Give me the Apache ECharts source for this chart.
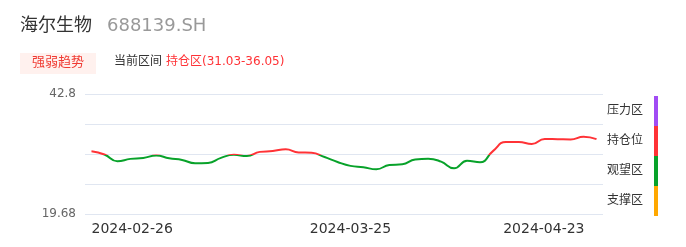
<!DOCTYPE html>
<html><head><meta charset="utf-8">
<script src="https://cdn.jsdelivr.net/npm/echarts@6/dist/echarts.min.js"></script>
<style>html,body{margin:0;padding:0;background:#fff}#c{width:686px;height:247px}</style>
</head><body><div id="c"></div>
<script>
const dates = ['2024-02-26','2024-02-27','2024-02-28','2024-02-29','2024-03-01','2024-03-04','2024-03-05','2024-03-06','2024-03-07','2024-03-08','2024-03-11','2024-03-12','2024-03-13','2024-03-14','2024-03-15','2024-03-18','2024-03-19','2024-03-20','2024-03-21','2024-03-22','2024-03-25','2024-03-26','2024-03-27','2024-03-28','2024-03-29','2024-04-01','2024-04-02','2024-04-03','2024-04-08','2024-04-09','2024-04-10','2024-04-11','2024-04-12','2024-04-15','2024-04-16','2024-04-17','2024-04-18','2024-04-19','2024-04-22','2024-04-23'];
const prices = [31.76,31.15,29.85,30.3,30.47,30.95,30.4,30.1,29.45,29.5,30.5,31.08,30.85,31.65,31.8,32.15,31.55,31.5,30.65,29.7,28.95,28.68,28.3,29.12,29.25,30.2,30.34,29.76,28.48,29.95,29.64,31.8,33.55,33.55,33.15,34.15,34.1,34.05,34.57,34.1];
const xLabelDates = ['2024-02-26','2024-03-25','2024-04-23'];
const yMin = 19.68, yMax = 42.8;
const yTickLabels = ['19.68','','','','42.8'];
const zoneNames = ['压力区','持仓位','观望区','支撑区'];
const zoneColors = ['#a14cf4','#ff3236','#08a22a','#ffa800'];
const holdLow = 31.03, holdHigh = 36.05, watchLow = 26.0;
const stockName = '海尔生物', stockCode = '688139.SH';
const badgeText = '强弱趋势', rangeLabel = '当前区间', rangeText = '持仓区(31.03-36.05)';

const FF = '"DejaVu Sans","Noto Sans CJK SC",sans-serif';
const chart = echarts.init(document.getElementById('c'), null, {renderer:'canvas'});
const lastIdx = dates.length - 1;
chart.setOption({
  animation:false,
  textStyle:{fontFamily:FF},
  grid:{left:85,right:83,top:94,bottom:33},
  graphic:[
    {type:'text',left:20,top:17,style:{text:stockName,fontSize:18,fill:'#333',fontFamily:FF}},
    {type:'text',left:107,top:17,style:{text:stockCode,fontSize:18,fill:'#999',fontFamily:FF}},
    {type:'rect',left:20,top:53,shape:{width:76,height:21},style:{fill:'#fff1ee'}},
    {type:'text',left:32,top:56,style:{text:badgeText,fontSize:13,fill:'#f03a32',fontFamily:FF}},
    {type:'text',left:114,top:56,style:{text:rangeLabel,fontSize:12,fill:'#333',fontFamily:FF}},
    {type:'text',left:166,top:56,style:{text:rangeText,fontSize:12,fill:'#ff3236',fontFamily:FF}}
  ],
  xAxis:{type:'category',data:dates,boundaryGap:true,
    axisLine:{show:false},axisTick:{show:false},
    axisLabel:{
      interval:(i,v)=>xLabelDates.indexOf(v)>=0,
      color:'#333',fontSize:14,margin:8,fontFamily:FF,
      alignMinLabel:'left',alignMaxLabel:'right',
      formatter:(v,i)=> i===lastIdx ? '{last|'+v+'}' : v,
      rich:{last:{fontSize:14,color:'#333',fontFamily:FF,padding:[0,12,0,0]}}
    }},
  yAxis:[
    {type:'value',min:yMin,max:yMax,show:false,splitLine:{show:false}},
    {type:'value',min:0,max:4,interval:1,position:'left',
      axisLine:{show:false},axisTick:{show:false},
      splitLine:{lineStyle:{color:'#e0e6f1'}},
      axisLabel:{color:'#666',fontSize:12,margin:9,fontFamily:FF,formatter:(v)=>yTickLabels[Math.round(v)]}}
  ],
  visualMap:{type:'piecewise',orient:'vertical',right:13,top:81,
    itemWidth:4,itemHeight:30,itemGap:0,itemSymbol:'rect',align:'right',textGap:11,
    selectedMode:false,dimension:1,seriesIndex:0,
    textStyle:{color:'#333',fontSize:12,fontFamily:FF},
    pieces:[
      {gt:holdHigh,label:zoneNames[0],color:zoneColors[0]},
      {gte:holdLow,lte:holdHigh,label:zoneNames[1],color:zoneColors[1]},
      {gte:watchLow,lt:holdLow,label:zoneNames[2],color:zoneColors[2]},
      {lt:watchLow,label:zoneNames[3],color:zoneColors[3]}
    ]},
  series:[{type:'line',data:prices,yAxisIndex:0,smooth:true,showSymbol:false,
    lineStyle:{width:2}}]
});
</script></body></html>
